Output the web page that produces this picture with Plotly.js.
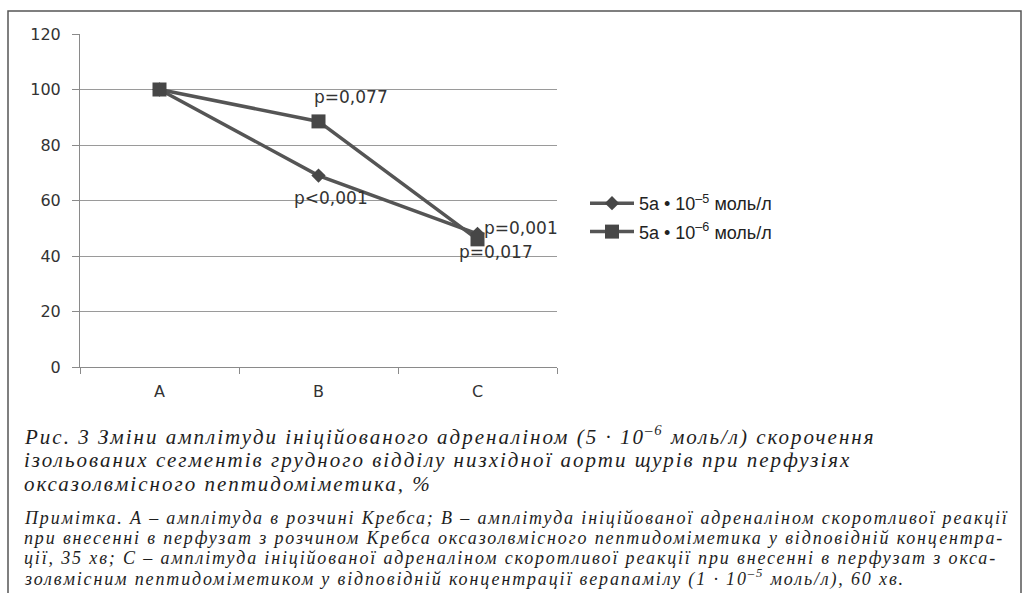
<!DOCTYPE html>
<html>
<head>
<meta charset="utf-8">
<script src="https://cdn.plot.ly/plotly-3.0.1.min.js"></script>
<style>
html,body{margin:0;padding:0;background:#fff;}
#chart{width:1028px;height:593px;}
</style>
</head>
<body>
<div id="chart"></div>
<script>
// ---- data ----
const categories = ['A', 'B', 'C'];
const series1Name = '5а • 10<sup>–5</sup> моль/л';
const series1 = [100, 69, 48];
const series2Name = '5а • 10<sup>–6</sup> моль/л';
const series2 = [100, 88.5, 46];
const yTicks = [0, 20, 40, 60, 80, 100, 120];
const pLabels = [
  {x: 'B', y: 88.5, text: 'p=0,077', dx: 32, dy: 24},
  {x: 'B', y: 69, text: 'p<0,001', dx: 12, dy: -22},
  {x: 'C', y: 48, text: 'p=0,001', dx: 43, dy: 6},
  {x: 'C', y: 46, text: 'p=0,017', dx: 18, dy: -13}
];
const captionLines = [
  'Рис. 3 Зміни амплітуди ініційованого адреналіном (5 · 10<sup>–6</sup> моль/л) скорочення',
  'ізольованих сегментів грудного відділу низхідної аорти щурів при перфузіях',
  'оксазолвмісного пептидоміметика, %'
];
const noteLines = [
  'Примітка. А – амплітуда в розчині Кребса; В – амплітуда ініційованої адреналіном скоротливої реакції',
  'при внесенні в перфузат з розчином Кребса оксазолвмісного пептидоміметика у відповідній концентра-',
  'ції, 35 хв; С – амплітуда ініційованої адреналіном скоротливої реакції при внесенні в перфузат з окса-',
  'золвмісним пептидоміметиком у відповідній концентрації верапамілу (1 · 10<sup>–5</sup> моль/л), 60 хв.'
];

// ---- layout geometry (pixels) ----
const W = 1028, H = 593;
const PL = 80, PR = 557, PT = 34, PB = 367;
const pw = PR - PL, ph = PB - PT;
const px = x => (x - PL) / pw;
const py = y => (PB - y) / ph;

const lineColor = '#555555';
const markColor = '#474747';
const sans = 'DejaVu Sans, sans-serif';

const traces = [
  {
    x: categories, y: series1, name: series1Name, type: 'scatter', mode: 'lines+markers',
    legendgroup: 'g1',
    line: {color: lineColor, width: 3.5},
    marker: {symbol: 'diamond', size: 11, color: markColor}
  },
  {
    x: categories, y: series2, name: series2Name, type: 'scatter', mode: 'lines+markers',
    legendgroup: 'g2',
    line: {color: lineColor, width: 3.5},
    marker: {symbol: 'square', size: 14, color: markColor}
  }
];

const annotations = [];
pLabels.forEach(p => annotations.push({
  x: p.x, y: p.y, xref: 'x', yref: 'y', text: p.text, showarrow: false,
  xshift: p.dx, yshift: p.dy, xanchor: 'center', yanchor: 'middle',
  font: {family: sans, size: 17, color: '#333'}
}));
const capY = [435, 460, 484];
captionLines.forEach((t, i) => annotations.push({
  x: px(22), y: py(capY[i]), xref: 'paper', yref: 'paper',
  text: '<span style="letter-spacing:2px">' + t + '</span>', showarrow: false,
  xanchor: 'left', yanchor: 'middle',
  font: {family: 'Liberation Serif, serif', size: 21, style: 'italic', color: '#1e1e1e'}
}));
const noteY = [518, 538, 558, 578];
noteLines.forEach((t, i) => annotations.push({
  x: px(22), y: py(noteY[i]), xref: 'paper', yref: 'paper',
  text: '<span style="letter-spacing:1.85px">' + t + '</span>', showarrow: false,
  xanchor: 'left', yanchor: 'middle',
  font: {family: 'Liberation Serif, serif', size: 18, style: 'italic', color: '#1e1e1e'}
}));

const layout = {
  width: W, height: H,
  margin: {l: PL, r: W - PR, t: PT, b: H - PB, pad: 0},
  paper_bgcolor: '#fff', plot_bgcolor: '#fff',
  showlegend: true,
  legend: {
    x: px(585), y: py(185), xanchor: 'left', yanchor: 'top',
    font: {family: 'Liberation Sans, Arial, sans-serif', size: 18, color: '#222'},
    bgcolor: 'rgba(0,0,0,0)', itemwidth: 44, tracegroupgap: 2
  },
  xaxis: {
    type: 'category', range: [-0.5, 2.5], showgrid: false,
    showline: true, linecolor: '#8a8a8a', linewidth: 1,
    ticks: 'outside', tickson: 'boundaries', ticklen: 6, tickcolor: '#8a8a8a',
    tickfont: {family: sans, size: 16, color: '#333'},
    ticklabelstandoff: 10, zeroline: false, fixedrange: true
  },
  yaxis: {
    range: [0, 120], tickvals: yTicks, ticktext: yTicks.map(String),
    showgrid: true, gridcolor: '#9a9a9a', gridwidth: 1,
    showline: true, linecolor: '#8a8a8a', linewidth: 1,
    ticks: 'outside', ticklen: 7, tickcolor: '#8a8a8a',
    tickfont: {family: sans, size: 16, color: '#333'},
    ticklabelstandoff: 8, zeroline: false, fixedrange: true
  },
  annotations: annotations,
  shapes: [{
    type: 'rect', xref: 'paper', yref: 'paper',
    x0: px(8), x1: px(1021), y0: py(610), y1: py(11),
    line: {color: '#555', width: 1.5}, layer: 'below'
  }]
};

Plotly.newPlot('chart', traces, layout, {displayModeBar: false, staticPlot: true});
</script>
</body>
</html>
